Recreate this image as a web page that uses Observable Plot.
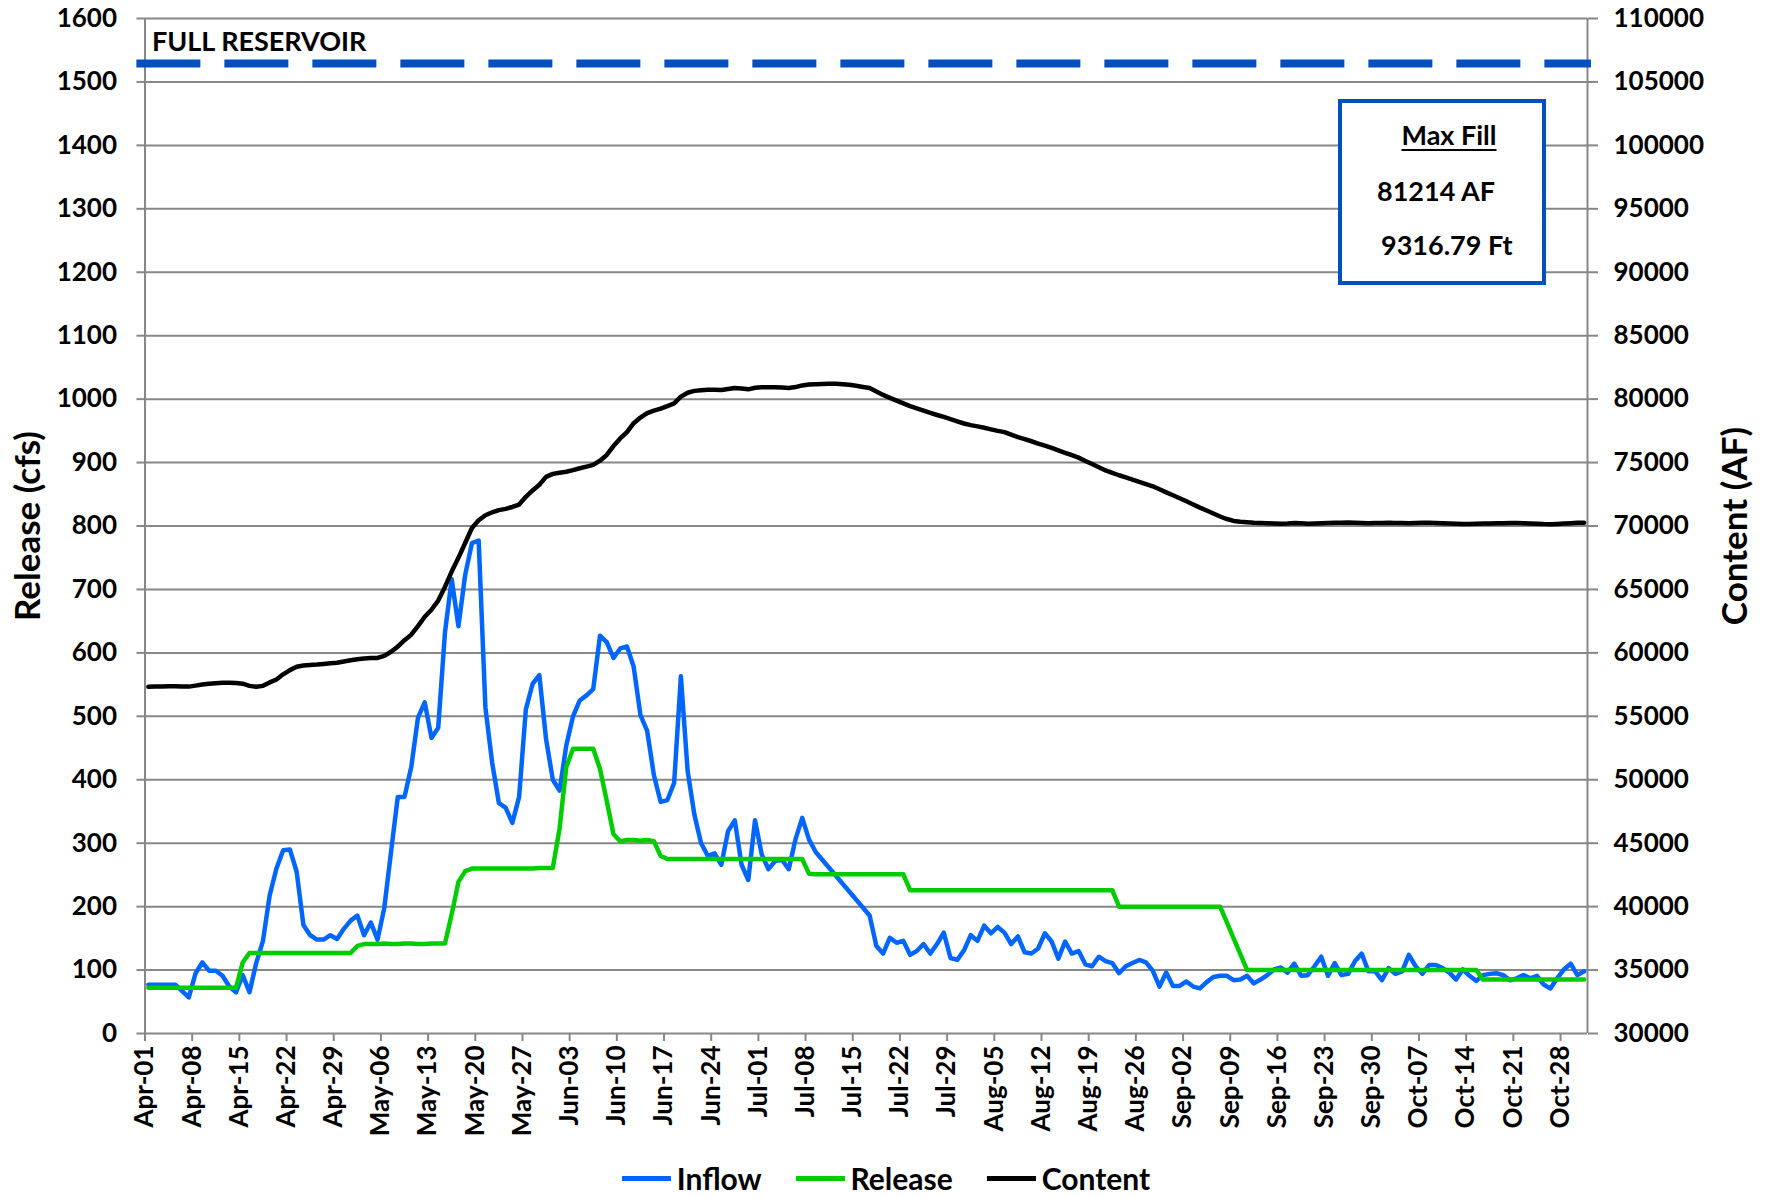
<!DOCTYPE html>
<html>
<head>
<meta charset="utf-8">
<script src="https://cdn.jsdelivr.net/npm/d3@7"></script>
<script src="https://cdn.jsdelivr.net/npm/@observablehq/plot@0.6"></script>
<style>
  html, body { margin: 0; padding: 0; background: #fff; }
  body { font-family: Lato, "Open Sans", sans-serif; font-weight: bold; color: #000; }
  #wrap { position: relative; width: 1770px; height: 1197px; overflow: hidden; }
  #box { position: absolute; left: 1338px; top: 99px; width: 208px; height: 186px; box-sizing: border-box;
         border: 4px solid #0050C0; background: #fff; font-size: 27px; line-height: 1; }
  #box span { position: absolute; white-space: nowrap; }
  #legend { position: absolute; left: 0; top: 1159px; width: 1770px; height: 38px; display: flex;
            justify-content: center; align-items: center; font-size: 30px; padding-left: 2px; box-sizing: border-box; }
  .item { display: flex; align-items: center; margin: 0 17px; }
  .sw { width: 49px; height: 5px; margin-right: 6px; }
</style>
</head>
<body>
<div id="wrap"></div>
<script>
// ---------- data ----------
const xTickLabels = ["Apr-01","Apr-08","Apr-15","Apr-22","Apr-29","May-06","May-13","May-20","May-27",
  "Jun-03","Jun-10","Jun-17","Jun-24","Jul-01","Jul-08","Jul-15","Jul-22","Jul-29","Aug-05","Aug-12",
  "Aug-19","Aug-26","Sep-02","Sep-09","Sep-16","Sep-23","Sep-30","Oct-07","Oct-14","Oct-21","Oct-28"];
const releaseTicks = [0,100,200,300,400,500,600,700,800,900,1000,1100,1200,1300,1400,1500,1600];
const contentTicks = [30000,35000,40000,45000,50000,55000,60000,65000,70000,75000,80000,85000,90000,95000,100000,105000,110000];

const seriesNames = ["Inflow", "Release", "Content"];
const seriesColors = ["#0066FF", "#00CC00", "#000000"];

const fullReservoirLabel = "FULL RESERVOIR";
const fullReservoirAF = 106450;
const maxFillAF = 81214;
const maxFillFt = "9316.79";

// daily values, Apr-01 .. Oct-31
const inflow = [
  77, 77, 77, 77, 77, 67, 57, 95, 112, 99,
  99, 91, 74, 65, 92, 65, 111, 146, 218, 260,
  289, 290, 255, 171, 155, 148, 148, 155, 149, 165,
  178, 186, 155, 175, 148, 198, 286, 373, 373, 420,
  498, 522, 466, 482, 632, 716, 642, 723, 773, 777,
  514, 427, 363, 356, 332, 373, 511, 551, 565, 464,
  400, 383, 454, 500, 525, 533, 543, 627, 617, 592,
  607, 610, 578, 502, 477, 407, 365, 368, 395, 563,
  414, 345, 300, 280, 284, 266, 319, 336, 266, 242,
  336, 282, 259, 272, 274, 259, 306, 340, 306, 286,
  null, null, null, null, null, null, null, 186, 138, 126,
  151, 143, 146, 124, 130, 141, 126, 141, 159, 119,
  116, 131, 155, 146, 170, 158, 168, 159, 141, 153,
  128, 126, 134, 158, 145, 118, 145, 126, 130, 109,
  106, 121, 114, 111, 95, 106, 111, 116, 112, 99,
  74, 96, 75, 75, 82, 74, 71, 81, 89, 91,
  91, 84, 85, 91, 79, 85, 92, 101, 104, 96,
  110, 91, 92, 106, 121, 91, 111, 92, 94, 114,
  126, 98, 98, 84, 103, 94, 98, 124, 106, 94,
  108, 108, 103, 96, 85, 101, 91, 83, 92, 94,
  95, 92, 84, 87, 92, 87, 91, 77, 71, 87,
  101, 110, 92, 98
];
const release = [
  72, 72, 72, 72, 72, 72, 72, 72, 72, 72,
  72, 72, 72, 72, 112, 127, 127, 127, 127, 127,
  127, 127, 127, 127, 127, 127, 127, 127, 127, 127,
  127, 138, 141, 141, 141, 142, 141, 141, 142, 142,
  141, 141, 142, 142, 142, 188, 239, 256, 260, 260,
  260, 260, 260, 260, 260, 260, 260, 260, 261, 261,
  261, 323, 420, 449, 449, 449, 449, 417, 367, 314,
  303, 305, 305, 304, 305, 303, 280, 275, 275, 275,
  275, 275, 275, 275, 275, 275, 275, 275, 275, 275,
  275, 275, 275, 275, 275, 275, 275, 275, 252, 251,
  251, 251, 251, 251, 251, 251, 251, 251, 251, 251,
  251, 251, 251, 226, 226, 226, 226, 226, 226, 226,
  226, 226, 226, 226, 226, 226, 226, 226, 226, 226,
  226, 226, 226, 226, 226, 226, 226, 226, 226, 226,
  226, 226, 226, 226, 200, 200, 200, 200, 200, 200,
  200, 200, 200, 200, 200, 200, 200, 200, 200, 200,
  175, 150, 125, 100, 100, 100, 100, 100, 100, 100,
  100, 100, 100, 100, 100, 100, 100, 100, 100, 100,
  100, 100, 100, 100, 100, 100, 100, 100, 100, 100,
  100, 100, 100, 100, 100, 100, 100, 100, 85, 85,
  85, 85, 85, 85, 85, 85, 85, 85, 85, 85,
  85, 85, 85, 85
];
const content = [
  57330, 57340, 57350, 57360, 57370, 57350, 57340, 57420, 57500, 57560,
  57600, 57640, 57650, 57630, 57570, 57400, 57330, 57400, 57670, 57900,
  58310, 58640, 58910, 59010, 59050, 59080, 59130, 59180, 59220, 59320,
  59420, 59490, 59560, 59590, 59600, 59760, 60090, 60490, 61000, 61430,
  62110, 62850, 63400, 64120, 65200, 66410, 67490, 68660, 69840, 70450,
  70850, 71080, 71250, 71350, 71500, 71690, 72300, 72800, 73250, 73870,
  74110, 74200, 74280, 74400, 74550, 74680, 74820, 75150, 75600, 76300,
  76900, 77400, 78100, 78550, 78900, 79100, 79250, 79450, 79660, 80200,
  80500, 80650, 80700, 80730, 80730, 80720, 80800, 80870, 80830, 80770,
  80900, 80940, 80940, 80940, 80920, 80880, 80950, 81080, 81150, 81180,
  81200, 81214, 81210, 81180, 81130, 81050, 80960, 80870, 80600, 80330,
  80100, 79880, 79660, 79450, 79270, 79090, 78920, 78750, 78600, 78430,
  78250, 78080, 77950, 77850, 77740, 77620, 77500, 77400, 77200, 77000,
  76850, 76680, 76500, 76330, 76160, 75960, 75770, 75580, 75390, 75130,
  74880, 74630, 74380, 74190, 74000, 73830, 73660, 73480, 73300, 73130,
  72900, 72650, 72420, 72190, 71950, 71700, 71450, 71220, 70980, 70750,
  70550, 70400, 70340, 70300, 70260, 70240, 70220, 70200, 70180, 70200,
  70240, 70220, 70180, 70200, 70220, 70240, 70250, 70260, 70270, 70260,
  70240, 70220, 70230, 70240, 70250, 70240, 70230, 70220, 70240, 70260,
  70250, 70240, 70220, 70200, 70170, 70150, 70150, 70170, 70190, 70200,
  70210, 70220, 70230, 70230, 70220, 70200, 70180, 70150, 70140, 70160,
  70190, 70220, 70250, 70260
];

// ---------- helpers ----------
const YEAR = 2021;
const parseTick = d3.utcParse("%Y-%b-%d");
const xTickDates = xTickLabels.map(s => parseTick(YEAR + "-" + s));
const startDate = new Date(Date.UTC(YEAR, 3, 1));
const endDate = new Date(Date.UTC(YEAR, 10, 1));
const dayDate = i => new Date(Date.UTC(YEAR, 3, 1 + i, 12));
// right axis (Content, AF) mapped onto the left scale (Release, cfs)
const cMin = contentTicks[0], cMax = contentTicks[contentTicks.length - 1];
const rMin = releaseTicks[0], rMax = releaseTicks[releaseTicks.length - 1];
const toY = af => rMin + (af - cMin) * (rMax - rMin) / (cMax - cMin);
const fromY = v => Math.round(cMin + (v - rMin) * (cMax - cMin) / (rMax - rMin));

const rows = inflow.map((v, i) => ({date: dayDate(i), inflow: v, release: release[i], content: content[i]}));

const grid = "#878787";

const chart = Plot.plot({
  width: 1770,
  height: 1150,
  marginLeft: 144.5,
  marginRight: 183,
  marginTop: 18,
  marginBottom: 117,
  style: {fontFamily: "Lato, 'Open Sans', sans-serif", fontSize: "26px", fontWeight: "bold", color: "#000", background: "#fff", overflow: "visible"},
  x: {type: "utc", domain: [startDate, endDate]},
  y: {domain: [rMin, rMax]},
  marks: [
    Plot.gridY(releaseTicks, {stroke: grid, strokeOpacity: 1, strokeWidth: 2}),
    Plot.ruleX([startDate, endDate], {stroke: grid, strokeWidth: 2}),
    Plot.axisY(releaseTicks, {anchor: "left", tickSize: 8, tickPadding: 20, stroke: grid, strokeWidth: 2,
      tickFormat: v => String(v), label: null, fontSize: 26}),
    Plot.axisY(contentTicks.map(toY), {anchor: "right", tickSize: 10, tickPadding: 16, stroke: grid, strokeWidth: 2,
      tickFormat: v => String(fromY(v)), label: null, fontSize: 26}),
    Plot.axisX(xTickDates, {anchor: "bottom", tickSize: 8, tickPadding: 4, tickRotate: -90, stroke: grid, strokeWidth: 2,
      tickFormat: d3.utcFormat("%b-%d"), label: null, fontSize: 26}),
    Plot.ruleY([toY(fullReservoirAF)], {
      x1: () => d3.utcHour.offset(startDate, -29), x2: () => d3.utcHour.offset(endDate, 14),
      stroke: "#0050C0", strokeWidth: 8, strokeDasharray: "64,24"}),
    Plot.text([fullReservoirLabel], {x: () => startDate, y: () => toY(fullReservoirAF), text: d => d,
      textAnchor: "start", lineAnchor: "bottom", dx: 7, dy: -13, fontSize: 27, fill: "#000"}),
    Plot.line(rows.filter(d => d.inflow != null), {x: "date", y: "inflow", stroke: seriesColors[0], strokeWidth: 4.5}),
    Plot.line(rows, {x: "date", y: "release", stroke: seriesColors[1], strokeWidth: 4.5}),
    Plot.line(rows, {x: "date", y: d => toY(d.content), stroke: seriesColors[2], strokeWidth: 4.5}),
    Plot.text(["Release (cfs)"], {frameAnchor: "left", textAnchor: "middle", lineAnchor: "middle", rotate: -90, dx: -116,
      text: d => d, fontSize: 35, fill: "#000"}),
    Plot.text(["Content (AF)"], {frameAnchor: "right", textAnchor: "middle", lineAnchor: "middle", rotate: -90, dx: 148,
      text: d => d, fontSize: 35, fill: "#000"})
  ]
});

const wrap = document.getElementById("wrap");
wrap.appendChild(chart);

// Max Fill annotation box
const box = document.createElement("div");
box.id = "box";
box.innerHTML =
  `<span style="left:107px;top:18px;transform:translateX(-50%);text-decoration:underline;text-decoration-thickness:2px;text-underline-offset:4px;">Max Fill</span>` +
  `<span style="left:35px;top:74px;">${maxFillAF} AF</span>` +
  `<span style="left:39px;top:128px;">${maxFillFt} Ft</span>`;
wrap.appendChild(box);

// Legend
const legend = document.createElement("div");
legend.id = "legend";
legend.innerHTML = seriesNames.map((n, i) =>
  `<div class="item"><div class="sw" style="background:${seriesColors[i]}"></div><span>${n}</span></div>`).join("");
wrap.appendChild(legend);
</script>
</body>
</html>
